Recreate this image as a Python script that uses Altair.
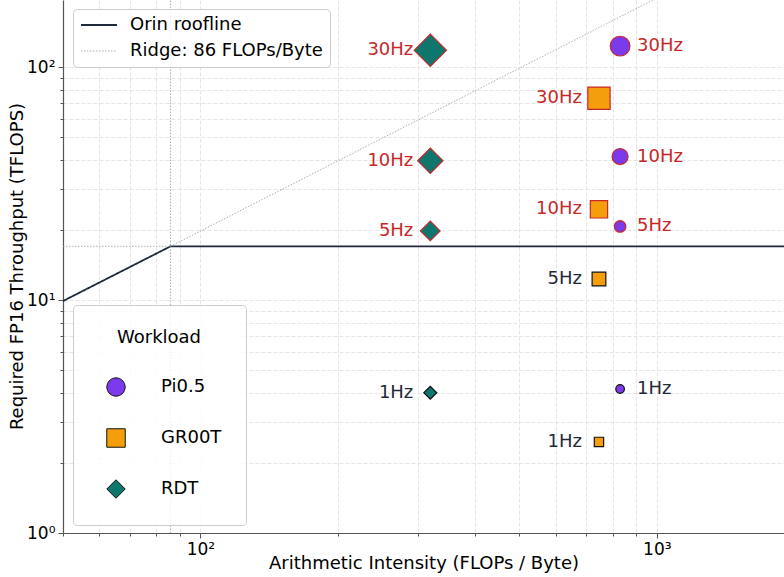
import altair as alt
import pandas as pd

# ---------------- data ----------------
workloads = ["Pi0.5", "GR00T", "RDT"]
intensity = [831, 747, 319]            # FLOPs / Byte
rates_hz = [1, 5, 10, 30]
pi05_tflops = [4.15, 20.7, 41.3, 123.0]
gr00t_tflops = [2.46, 12.3, 24.5, 73.5]
rdt_tflops = [4.0, 19.8, 39.6, 118.0]

peak_tflops = 17.0
ridge_ai = 86

roof_x = [50, 86, 1900]
roof_y = [9.9, 17.0, 17.0]
diag_x = [86, 1100]
diag_y = [17.0, 217.5]
flat_x = [50, 86]
flat_y = [17.0, 17.0]
vert_x = [86, 86]
vert_y = [1, 194]

x_ticks = [50, 60, 70, 80, 90, 100, 200, 300, 400, 500, 600, 700, 800, 900, 1000]
y_ticks = [1, 2, 3, 4, 5, 6, 7, 8, 9, 10, 20, 30, 40, 50, 60, 70, 80, 90, 100]

roof_name = "Orin roofline"
ridge_name = "Ridge: 86 FLOPs/Byte"

# ---------------- tables ----------------
rows = []
for seg, (xs, ys, name) in enumerate([
    (roof_x, roof_y, roof_name),
    (diag_x, diag_y, ridge_name),
    (flat_x, flat_y, ridge_name),
    (vert_x, vert_y, ridge_name),
]):
    for i, (xv, yv) in enumerate(zip(xs, ys)):
        rows.append({"x": xv, "y": yv, "series": name, "seg": seg, "ord": i})
lines_df = pd.DataFrame(rows)

prow = []
for w, a, vals in zip(workloads, intensity, [pi05_tflops, gr00t_tflops, rdt_tflops]):
    for hz, t in zip(rates_hz, vals):
        prow.append({"workload": w, "ai": a, "hz": hz, "tflops": t, "label": f"{hz}Hz"})
pts_df = pd.DataFrame(prow)

# ---------------- styling ----------------
FONT = "DejaVu Sans"
RED = "#c62828"
DARK = "#1f2937"
fill_colors = ["#7c3aed", "#f59e0b", "#0f766e"]
shapes = ["circle", "square", "diamond"]
marker_area = {"Pi0.5": [74, 133, 254, 390], "GR00T": [87, 188, 300, 497], "RDT": [169, 388, 640, 1043]}

def size_expr():
    parts = []
    for w, areas in marker_area.items():
        inner = " : ".join(
            [f"datum.hz == {h} ? {a}" for h, a in zip(rates_hz[:-1], areas[:-1])] + [str(areas[-1])]
        )
        parts.append(f"datum.workload == '{w}' ? ({inner})")
    return " : ".join(parts) + " : 100"

major_test = "indexof([1, 10, 100, 1000], datum.value) >= 0"

x_scale = alt.Scale(type="log", domain=[50, 1900], nice=False)
y_scale = alt.Scale(type="log", domain=[1, 194], nice=False)

x_axis = alt.Axis(
    title="Arithmetic Intensity (FLOPs / Byte)",
    values=x_ticks,
    labelExpr="datum.value == 100 ? '10²' : datum.value == 1000 ? '10³' : ''",
    tickSize={"condition": {"test": major_test, "value": 5}, "value": 3},
    labelFlush=False, labelOverlap=False,
    labelPadding=3, titleBaseline="middle", titleY=30,
)
y_axis = alt.Axis(
    title="Required FP16 Throughput (TFLOPS)",
    values=y_ticks,
    labelExpr="datum.value == 1 ? '10⁰' : datum.value == 10 ? '10¹' : datum.value == 100 ? '10²' : ''",
    tickSize={"condition": {"test": major_test, "value": 5}, "value": 3},
    labelOverlap=False, labelPadding=3,
    titleX=-46, titleY=266, titleBaseline="middle", titleAlign="center",
)

base_x = alt.X("x:Q", scale=x_scale, axis=x_axis)
base_y = alt.Y("y:Q", scale=y_scale, axis=y_axis)

lines = alt.Chart(lines_df).mark_line(clip=True).encode(
    x=base_x,
    y=base_y,
    detail="seg:N",
    order="ord:Q",
    color=alt.Color(
        "series:N",
        scale=alt.Scale(domain=[roof_name, ridge_name], range=["#1e293b", "#9a9a9a"]),
        legend=alt.Legend(
            title=None, orient="none", legendX=10, legendY=9, padding=7,
            symbolType="M-3,0H3", symbolSize=144, symbolOffset=10, labelOffset=22,
            labelFontSize=18, labelFont=FONT, labelColor="black", labelLimit=400, rowPadding=8,
            fillColor="rgba(255,255,255,0.85)", strokeColor="#cccccc", cornerRadius=4,
            symbolStrokeWidth=1.5,
        ),
    ),
    strokeDash=alt.StrokeDash(
        "series:N",
        scale=alt.Scale(domain=[roof_name, ridge_name], range=[[1, 0], [1.5, 1.5]]),
    ),
    strokeWidth=alt.StrokeWidth(
        "series:N",
        scale=alt.Scale(domain=[roof_name, ridge_name], range=[1.8, 0.8]),
        legend=None,
    ),
)

px = alt.X("ai:Q", scale=x_scale, axis=x_axis)
py = alt.Y("tflops:Q", scale=y_scale, axis=y_axis)

points = alt.Chart(pts_df).mark_point(filled=True, opacity=1, strokeWidth=1.2).transform_calculate(
    sz=size_expr()
).encode(
    x=px,
    y=py,
    fill=alt.Fill(
        "workload:N",
        scale=alt.Scale(domain=workloads, range=fill_colors),
        legend=alt.Legend(
            title="Workload", orient="none", legendX=10, legendY=305, padding=24,
            titleFontSize=18, titleFont=FONT, titleFontWeight="normal", titleColor="black",
            titleAnchor="middle", titleAlign="center", titlePadding=30,
            labelFontSize=18, labelFont=FONT, labelColor="black", labelLimit=300,
            symbolSize=340, symbolOffset=9, labelOffset=35, rowPadding=27,
            symbolStrokeColor="#111111", symbolStrokeWidth=1, symbolOpacity=1,
            fillColor="rgba(255,255,255,0.85)", strokeColor="#cccccc", cornerRadius=4,
        ),
    ),
    shape=alt.Shape("workload:N", scale=alt.Scale(domain=workloads, range=shapes)),
    size=alt.Size("sz:Q", scale=None, legend=None),
    stroke=alt.when(alt.datum.tflops > peak_tflops).then(alt.value(RED)).otherwise(alt.value("#111111")),
)

txt_color = alt.when(alt.datum.tflops > peak_tflops).then(alt.value(RED)).otherwise(alt.value(DARK))

labels_right = alt.Chart(pts_df).transform_filter(alt.datum.workload == "Pi0.5").mark_text(
    align="left", baseline="middle", dx=17, fontSize=18, font=FONT
).encode(x=px, y=py, text="label:N", color=txt_color)

labels_left = alt.Chart(pts_df).transform_filter(alt.datum.workload != "Pi0.5").mark_text(
    align="right", baseline="middle", dx=-17, fontSize=18, font=FONT
).encode(x=px, y=py, text="label:N", color=txt_color)

chart = alt.layer(lines, points, labels_right, labels_left).properties(
    width=721, height=533,
    padding={"left": 63, "top": 0, "right": 0, "bottom": 44},
    autosize=alt.AutoSizeParams(type="none"),
).configure_view(stroke=None).configure_axis(
    labelFont=FONT, labelFontSize=17, labelColor="black",
    titleFont=FONT, titleFontSize=18, titleFontWeight="normal", titleColor="black",
    domainColor="#555555", domainWidth=1.2, tickColor="#555555", tickWidth=1,
    gridColor="#dedede", gridDash=[4, 2], gridWidth=0.8,
)

chart.save("out.html", embed_options={"renderer": "svg", "actions": False})
